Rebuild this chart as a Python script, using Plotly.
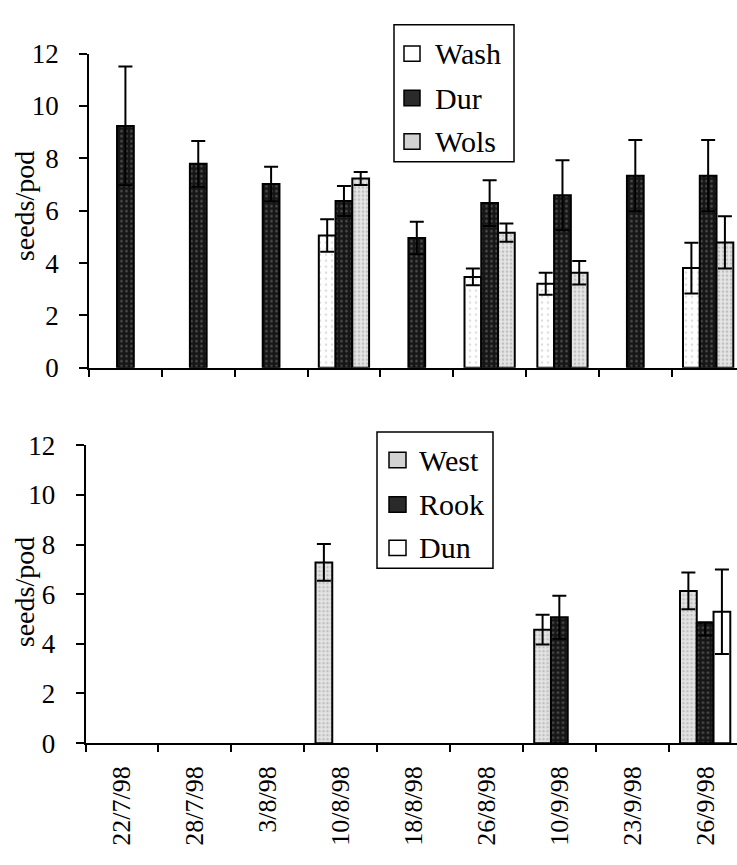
import plotly.graph_objects as go

# ---------------- data ----------------
dates = ["22/7/98", "28/7/98", "3/8/98", "10/8/98", "18/8/98",
         "26/8/98", "10/9/98", "23/9/98", "26/9/98"]

# top panel
wash = [None, None, None, 5.05, None, 3.47, 3.21, None, 3.81]
wash_err = [None, None, None, 0.62, None, 0.32, 0.42, None, 0.97]
dur = [9.24, 7.79, 7.02, 6.37, 4.96, 6.29, 6.59, 7.34, 7.34]
dur_err = [2.27, 0.87, 0.66, 0.57, 0.62, 0.87, 1.34, 1.36, 1.36]
wols = [None, None, None, 7.23, None, 5.16, 3.63, None, 4.79]
wols_err = [None, None, None, 0.25, None, 0.35, 0.45, None, 1.00]

# bottom panel
west = [None, None, None, 7.28, None, None, 4.57, None, 6.13]
west_err = [None, None, None, 0.74, None, None, 0.60, None, 0.74]
rook = [None, None, None, None, None, None, 5.07, None, 4.86]
rook_err_plus = [None, None, None, None, None, None, 0.87, None, 0.0]
rook_err_minus = [None, None, None, None, None, None, 0.87, None, 0.52]
dun = [None, None, None, None, None, None, None, None, 5.29]
dun_err = [None, None, None, None, None, None, None, None, 1.70]

yticks = [0, 2, 4, 6, 8, 10, 12]

# ---------------- styling helpers ----------------
W, H = 737, 865
FONT = "Liberation Serif"


def px(x):
    return x / W


def py(y):
    return 1 - y / H


STYLES = {
    "light": dict(color="#ffffff", pattern=dict(shape=".", fgcolor="#bdbdbd", bgcolor="#ffffff", size=6, solidity=0.15)),
    "dark": dict(color="#161616", pattern=dict(shape=".", fgcolor="#858585", bgcolor="#161616", size=5, solidity=0.22)),
    "stipple": dict(color="#e4e4e4", pattern=dict(shape=".", fgcolor="#999999", bgcolor="#e4e4e4", size=4, solidity=0.35)),
    "white": dict(color="#ffffff", pattern=dict(shape="")),
}


def bar(name, y, plus, minus, style, xa, ya):
    st = STYLES[style]
    return go.Bar(
        name=name, x=dates, y=y, xaxis=xa, yaxis=ya,
        marker=dict(color=st["color"], pattern=st["pattern"],
                    line=dict(color="black", width=2)),
        error_y=dict(type="data", array=plus, arrayminus=minus, symmetric=False,
                     color="black", thickness=2, width=7),
        showlegend=False,
    )


fig = go.Figure()
fig.add_trace(bar("Wash", wash, wash_err, wash_err, "light", "x", "y"))
fig.add_trace(bar("Dur", dur, dur_err, dur_err, "dark", "x", "y"))
fig.add_trace(bar("Wols", wols, wols_err, wols_err, "stipple", "x", "y"))
fig.add_trace(bar("West", west, west_err, west_err, "stipple", "x2", "y2"))
fig.add_trace(bar("Rook", rook, rook_err_plus, rook_err_minus, "dark", "x2", "y2"))
fig.add_trace(bar("Dun", dun, dun_err, dun_err, "white", "x2", "y2"))

common_x = dict(type="category", tickson="boundaries", ticks="outside", ticklen=7,
                tickwidth=1.5, tickcolor="black", showline=True, linecolor="black",
                linewidth=1.5, showgrid=False, zeroline=False, fixedrange=True)
common_y = dict(range=[0, 12], tickvals=yticks, ticks="outside", ticklen=8, tickwidth=1.5,
                tickcolor="black", showline=True, linecolor="black", linewidth=1.5,
                showgrid=False, zeroline=False, ticklabelstandoff=15,
                tickfont=dict(family=FONT, size=27, color="black"))

fig.update_layout(
    width=W, height=H,
    margin=dict(l=0, r=0, t=0, b=0),
    paper_bgcolor="white", plot_bgcolor="white",
    barmode="group", bargap=0.31, bargroupgap=0,
    font=dict(family=FONT, color="black"),
    showlegend=False,
    xaxis=dict(common_x, domain=[px(89), 1], range=[-0.5, 8.396], anchor="y",
               showticklabels=False),
    yaxis=dict(common_y, domain=[py(365.5), py(40)], anchor="x"),
    xaxis2=dict(common_x, domain=[px(85.5), 1], range=[-0.5, 8.437], anchor="y2",
                tickangle=-90, ticklabelstandoff=11,
                tickfont=dict(family=FONT, size=26, color="black")),
    yaxis2=dict(common_y, domain=[py(754.3), py(445.7)], anchor="x2"),
)

# y-axis titles
for yc in (198, 598):
    fig.add_annotation(text="seeds/pod", xref="paper", yref="paper", x=px(24), y=py(yc),
                       textangle=-90, showarrow=False, xanchor="center", yanchor="middle",
                       font=dict(family=FONT, size=28, color="black"))

# legends
ICON_FILL = {"light": "#ffffff", "dark": "#2a2a2a", "stipple": "#d2d2d2", "white": "#ffffff"}


def legend(box, icon_x, text_x, entries):
    x0, y0, x1, y1 = box
    fig.add_shape(type="rect", xref="paper", yref="paper", x0=px(x0), x1=px(x1),
                  y0=py(y1), y1=py(y0), line=dict(color="black", width=1.5),
                  fillcolor="white", layer="above")
    for label, style, yc in entries:
        fig.add_shape(type="rect", xref="paper", yref="paper",
                      x0=px(icon_x[0]), x1=px(icon_x[1]), y0=py(yc + 8), y1=py(yc - 8),
                      line=dict(color="black", width=1.5), fillcolor=ICON_FILL[style],
                      layer="above")
        fig.add_annotation(text=label, xref="paper", yref="paper", x=px(text_x), y=py(yc),
                           showarrow=False, xanchor="left", yanchor="middle",
                           font=dict(family=FONT, size=30, color="black"))


legend((394, 10, 514, 152), (404, 420), 433,
       [("Wash", "light", 40), ("Dur", "dark", 86), ("Wols", "stipple", 131)])
legend((377, 432, 493, 573), (389, 406), 417,
       [("West", "stipple", 461), ("Rook", "dark", 507), ("Dun", "white", 552)])

POST = ("document.body.style.margin='0px';"
        "var gd=document.getElementById('{plot_id}');"
        "gd.style.position='absolute';gd.style.top='0px';gd.style.left='0px';")
fig.write_html("out.html", config={"displayModeBar": False}, post_script=POST)
